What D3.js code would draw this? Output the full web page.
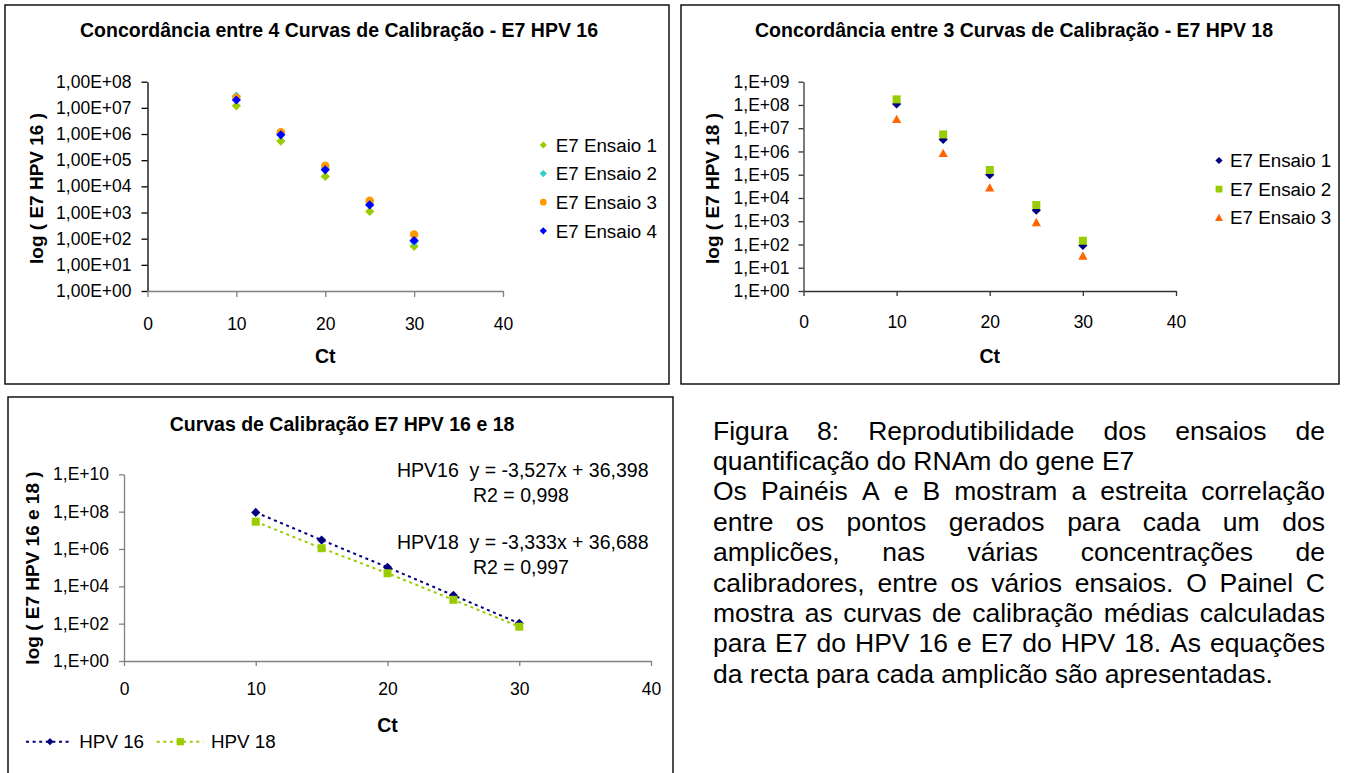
<!DOCTYPE html>
<html>
<head>
<meta charset="utf-8">
<script src="https://cdn.jsdelivr.net/npm/d3@7"></script>
<style>
  html, body { margin: 0; padding: 0; background: #fff; }
  svg { display: block; font-family: "Liberation Sans", Arial, Helvetica, sans-serif; }
  text { fill: #000; }
</style>
</head>
<body>
<svg id="fig" width="1345" height="773"></svg>
<script>
// ---------- data ----------
// Ct of each calibrator dilution
const ct = [10, 15, 20, 25, 30];
const xTicks = [0, 10, 20, 30, 40];

// Panel A: E7 HPV 16, four runs
const a_ensaio1 = [1.2e7, 5.4e5, 2.4e4, 1.1e3, 51];
const a_ensaio2 = [2.8e7, 1.07e6, 5.0e4, 2.3e3, 76];
const a_ensaio3 = [2.45e7, 1.17e6, 6.2e4, 2.8e3, 145];
const a_ensaio4 = [2.0e7, 9.3e5, 4.3e4, 1.95e3, 85];
const a_yExponents = [0, 1, 2, 3, 4, 5, 6, 7, 8];

// Panel B: E7 HPV 18, three runs
const b_ensaio1 = [1.1e8, 3.3e6, 1.0e5, 3.0e3, 91];
const b_ensaio2 = [1.74e8, 5.4e6, 1.6e5, 5.0e3, 145];
const b_ensaio3 = [2.4e7, 8.3e5, 2.75e4, 890, 32];
const b_yExponents = [0, 1, 2, 3, 4, 5, 6, 7, 8, 9];

// Panel C: mean calibration curves
const c_hpv16 = [9.1e7, 3.0e6, 1.05e5, 3.3e3, 105];
const c_hpv18 = [2.9e7, 1.1e6, 5.0e4, 1.9e3, 69];
const c_yExponents = [0, 2, 4, 6, 8, 10];
const c_equations = [
  ["HPV16\u00A0\u00A0y = -3,527x + 36,398", "R2 = 0,998"],
  ["HPV18\u00A0\u00A0y = -3,333x + 36,688", "R2 = 0,997"]
];

// Figure caption, line by line (true = justified)
const captionLines = [
  ["Figura 8: Reprodutibilidade dos ensaios de", true],
  ["quantificação do RNAm do gene E7", false],
  ["Os Painéis A e B mostram a estreita correlação", true],
  ["entre os pontos gerados para cada um dos", true],
  ["amplicões, nas várias concentrações de", true],
  ["calibradores, entre os vários ensaios. O Painel C", true],
  ["mostra as curvas de calibração médias calculadas", true],
  ["para E7 do HPV 16 e E7 do HPV 18. As equações", true],
  ["da recta para cada amplicão são apresentadas.", false]
];

// ---------- helpers ----------
const svg = d3.select("#fig");

const markerPath = {
  diamond: r => `M0,${-r}L${r},0L0,${r}L${-r},0Z`,
  square: r => `M${-r},${-r}H${r}V${r}H${-r}Z`,
  triangle: r => `M0,${-r * 1.05}L${r * 1.05},${r * 0.85}L${-r * 1.05},${r * 0.85}Z`,
  circle: r => d3.symbol().type(d3.symbolCircle).size(Math.PI * r * r)()
};

const sciLong = e => "1,00E+" + String(e).padStart(2, "0");
const sciShort = e => "1,E+" + String(e).padStart(2, "0");

function drawPanel(cfg) {
  const g = svg.append("g");

  // frame
  g.append("rect")
    .attr("x", cfg.box[0]).attr("y", cfg.box[1])
    .attr("width", cfg.box[2] - cfg.box[0]).attr("height", cfg.box[3] - cfg.box[1])
    .attr("fill", "#fff").attr("stroke", "#000").attr("stroke-width", 1.4);

  // title
  g.append("text")
    .attr("x", cfg.titlePos[0]).attr("y", cfg.titlePos[1])
    .attr("text-anchor", "middle").attr("font-weight", "bold").attr("font-size", 19.5)
    .text(cfg.title);

  const x = d3.scaleLinear().domain([0, 40]).range(cfg.xRange);
  const y = d3.scaleLog().domain([1, Math.pow(10, d3.max(cfg.yExp))]).range(cfg.yRange);

  // y axis
  const ya = g.append("g")
    .attr("transform", `translate(${cfg.xRange[0]},0)`)
    .call(d3.axisLeft(y)
      .tickValues(cfg.yExp.map(e => Math.pow(10, e)))
      .tickFormat((d, i) => cfg.yFmt(cfg.yExp[i]))
      .tickSizeInner(cfg.tick).tickSizeOuter(0).tickPadding(cfg.yPad));
  ya.attr("font-size", null).attr("font-family", null);
  ya.select(".domain").attr("stroke", cfg.yAxisColor).attr("stroke-width", 1.3);
  ya.selectAll(".tick line").attr("stroke", cfg.yAxisColor).attr("stroke-width", 1.3);
  ya.selectAll(".tick text").attr("font-size", 17.5).attr("fill", "#000");

  // x axis
  const xa = g.append("g")
    .attr("transform", `translate(0,${cfg.yRange[0]})`)
    .call(d3.axisBottom(x)
      .tickValues(xTicks).tickFormat(d3.format("d"))
      .tickSizeInner(cfg.tick).tickSizeOuter(0).tickPadding(cfg.xPad));
  xa.attr("font-size", null).attr("font-family", null);
  xa.select(".domain").attr("stroke", cfg.xAxisColor).attr("stroke-width", 1.3);
  xa.selectAll(".tick line").attr("stroke", cfg.xAxisColor).attr("stroke-width", 1.3);
  xa.selectAll(".tick text").attr("font-size", 17.5).attr("fill", "#000");

  // axis titles
  g.append("text")
    .attr("x", (cfg.xRange[0] + cfg.xRange[1]) / 2).attr("y", cfg.xTitleY)
    .attr("text-anchor", "middle").attr("font-weight", "bold").attr("font-size", 19.5)
    .text("Ct");
  g.append("text")
    .attr("transform", `translate(${cfg.yTitlePos[0]},${cfg.yTitlePos[1]}) rotate(-90)`)
    .attr("dy", "0.36em")
    .attr("text-anchor", "middle").attr("font-weight", "bold").attr("font-size", 19)
    .text(cfg.yTitle);

  // series
  cfg.series.forEach(s => {
    const pts = ct.map((c, i) => [x(c), y(s.values[i])]);
    if (s.dash) {
      g.append("path")
        .attr("d", d3.line()(pts))
        .attr("fill", "none").attr("stroke", s.color)
        .attr("stroke-width", 2).attr("stroke-dasharray", s.dash);
    }
    g.append("g").selectAll("path")
      .data(pts).join("path")
      .attr("transform", d => `translate(${d[0]},${d[1]})`)
      .attr("d", markerPath[s.marker](s.r))
      .attr("fill", s.color);
  });

  // legend
  const lg = g.append("g");
  cfg.series.forEach((s, i) => {
    const p = cfg.legend(i);
    if (s.dash) {
      lg.append("line")
        .attr("x1", p.lx0).attr("x2", p.lx1).attr("y1", p.y).attr("y2", p.y)
        .attr("stroke", s.color).attr("stroke-width", 2).attr("stroke-dasharray", "3,3.6");
    }
    lg.append("path")
      .attr("transform", `translate(${p.mx},${p.y})`)
      .attr("d", markerPath[s.marker](s.lr))
      .attr("fill", s.color);
    lg.append("text")
      .attr("x", p.tx).attr("y", p.y).attr("dy", "0.36em")
      .attr("font-size", 18.8)
      .text(s.name);
  });

  return { g, x, y };
}

// ---------- Panel A ----------
drawPanel({
  box: [5, 5, 669, 384],
  title: "Concordância entre 4 Curvas de Calibração - E7 HPV 16",
  titlePos: [339, 37.3],
  xRange: [147.5, 503],
  yRange: [291, 81.7],
  yExp: a_yExponents,
  yFmt: sciLong,
  tick: 6, yPad: 10, xPad: 21,
  yAxisColor: "#000", xAxisColor: "#808080",
  xTitleY: 363,
  yTitlePos: [36.5, 188.5],
  yTitle: "log ( E7 HPV 16 )",
  series: [
    { name: "E7 Ensaio 1", values: a_ensaio1, marker: "diamond", color: "#99CC00", r: 4.6, lr: 3.6 },
    { name: "E7 Ensaio 2", values: a_ensaio2, marker: "diamond", color: "#33CCCC", r: 4.6, lr: 3.6 },
    { name: "E7 Ensaio 3", values: a_ensaio3, marker: "circle", color: "#FF9900", r: 4.2, lr: 3.4 },
    { name: "E7 Ensaio 4", values: a_ensaio4, marker: "diamond", color: "#0000FF", r: 4.6, lr: 3.6 }
  ],
  legend: i => ({ mx: 543.3, tx: 555.7, y: 145 + i * 28.6 })
});

// ---------- Panel B ----------
drawPanel({
  box: [681, 5, 1339, 384],
  title: "Concordância entre 3 Curvas de Calibração - E7 HPV 18",
  titlePos: [1014, 37.3],
  xRange: [803.5, 1176],
  yRange: [291, 81.7],
  yExp: b_yExponents,
  yFmt: sciShort,
  tick: 5, yPad: 9, xPad: 20,
  yAxisColor: "#333", xAxisColor: "#333",
  xTitleY: 363,
  yTitlePos: [712, 188.5],
  yTitle: "log ( E7 HPV 18 )",
  series: [
    { name: "E7 Ensaio 1", values: b_ensaio1, marker: "diamond", color: "#000080", r: 4.6, lr: 3.6 },
    { name: "E7 Ensaio 2", values: b_ensaio2, marker: "square", color: "#99CC00", r: 4, lr: 3.4 },
    { name: "E7 Ensaio 3", values: b_ensaio3, marker: "triangle", color: "#FF6600", r: 4.4, lr: 3.8 }
  ],
  legend: i => ({ mx: 1219, tx: 1230, y: 160.5 + i * 28.6 })
});

// ---------- Panel C ----------
const panelC = drawPanel({
  box: [8, 397, 673, 800],
  title: "Curvas de Calibração E7 HPV 16 e 18",
  titlePos: [342, 430.5],
  xRange: [124, 651],
  yRange: [661, 474.3],
  yExp: c_yExponents,
  yFmt: sciShort,
  tick: 5, yPad: 10, xPad: 17,
  yAxisColor: "#808080", xAxisColor: "#808080",
  xTitleY: 731.5,
  yTitlePos: [32.5, 568],
  yTitle: "log ( E7 HPV 16 e 18 )",
  series: [
    { name: "HPV 16", values: c_hpv16, marker: "diamond", color: "#000080", r: 4.6, lr: 3.6, dash: "3,3.6" },
    { name: "HPV 18", values: c_hpv18, marker: "square", color: "#99CC00", r: 4, lr: 3.6, dash: "3,3.6" }
  ],
  legend: i => i === 0
    ? { lx0: 26, lx1: 72, mx: 50, tx: 79.3, y: 741.7 }
    : { lx0: 156.7, lx1: 203.3, mx: 180.3, tx: 211, y: 741.7 }
});

// regression equations
const eqG = panelC.g.append("g").attr("font-size", 19.5);
c_equations.forEach((eq, i) => {
  eqG.append("text").attr("x", 397).attr("y", 470 + i * 72).attr("dy", "0.36em").text(eq[0]);
  eqG.append("text").attr("x", 473).attr("y", 494.7 + i * 72.5).attr("dy", "0.36em").text(eq[1]);
});

// ---------- caption ----------
const cap = svg.append("g").attr("font-size", 26.5).attr("fill", "#111");
const capLeft = 713, capWidth = 612, capBase = 439.5, capLead = 30.4;
captionLines.forEach(([line, justify], i) => {
  const t = cap.append("text").attr("y", capBase + i * capLead);
  if (!justify) {
    t.attr("x", capLeft).text(line);
    return;
  }
  const words = line.split(" ");
  const spans = words.map(w => t.append("tspan").text(w));
  const widths = spans.map(s => s.node().getComputedTextLength());
  const gap = (capWidth - d3.sum(widths)) / (words.length - 1);
  let cx = capLeft;
  spans.forEach((s, k) => { s.attr("x", cx); cx += widths[k] + gap; });
});
</script>
</body>
</html>
